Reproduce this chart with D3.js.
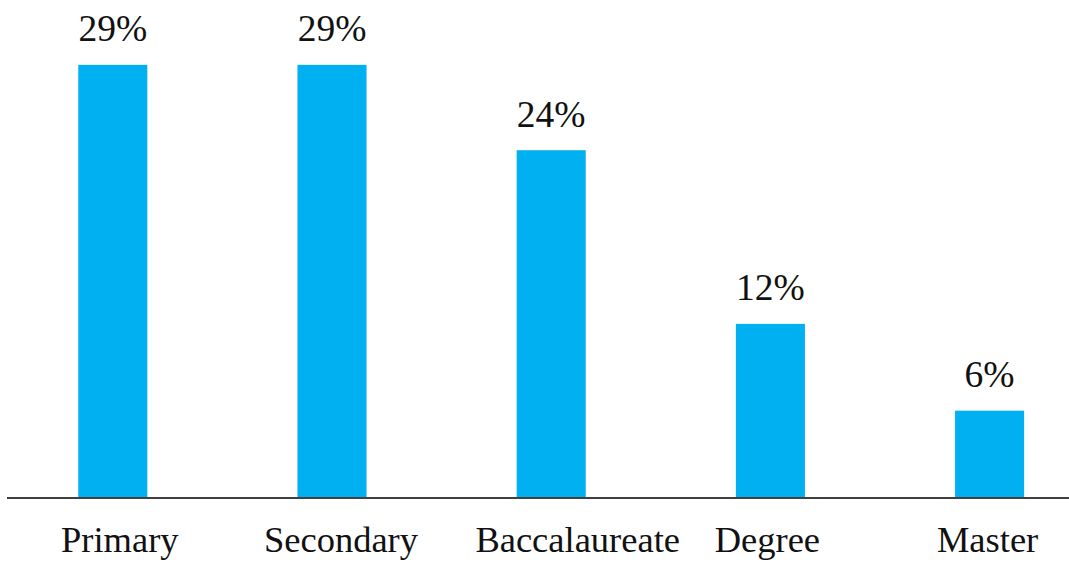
<!DOCTYPE html>
<html>
<head>
<meta charset="utf-8">
<script src="https://cdn.jsdelivr.net/npm/d3@7"></script>
<style>
  html, body { margin: 0; padding: 0; background: #ffffff; }
  svg { display: block; }
  text { font-family: "Liberation Serif", "Times New Roman", Tinos, "DejaVu Serif", serif; }
</style>
</head>
<body>
<svg id="chart" width="1069" height="565"></svg>
<script>
// ---- data ----
const categories = ["Primary", "Secondary", "Baccalaureate", "Degree", "Master"];
const values = [29.9, 29.9, 24, 12, 6];
const valueLabels = ["29%", "29%", "24%", "12%", "6%"];

// ---- layout ----
const W = 1069, H = 565;
const baseY = 497.5;
const svg = d3.select("#chart");

const x = d3.scaleBand()
  .domain(categories)
  .range([3.2, 1099.2])
  .paddingInner(0.685)
  .paddingOuter(0.3425);

const y = d3.scaleLinear()
  .domain([0, 30])
  .range([baseY, baseY - 434.1]);

// category label nudges (as placed in the original)
const labelDx = [7, 9, 26.5, -3, -2];

svg.selectAll("rect.bar")
  .data(values)
  .enter().append("rect")
  .attr("class", "bar")
  .attr("x", (d, i) => x(categories[i]))
  .attr("width", x.bandwidth())
  .attr("y", d => y(d))
  .attr("height", d => y(0) - y(d))
  .attr("fill", "#00B0F0");

// baseline axis
svg.append("line")
  .attr("x1", 7).attr("x2", W)
  .attr("y1", 498).attr("y2", 498)
  .attr("stroke", "#404040")
  .attr("stroke-width", 2);

// value labels
svg.selectAll("text.val")
  .data(values)
  .enter().append("text")
  .attr("class", "val")
  .attr("x", (d, i) => x(categories[i]) + x.bandwidth() / 2)
  .attr("y", d => y(d) - 23.5)
  .attr("text-anchor", "middle")
  .style("font-size", "37.5px")
  .attr("fill", "#111")
  .text((d, i) => valueLabels[i]);

// category labels
svg.selectAll("text.cat")
  .data(categories)
  .enter().append("text")
  .attr("class", "cat")
  .attr("x", (d, i) => x(d) + x.bandwidth() / 2 + labelDx[i])
  .attr("y", 552.3)
  .attr("text-anchor", "middle")
  .style("font-size", "36.5px")
  .attr("fill", "#111")
  .text(d => d);
</script>
</body>
</html>
